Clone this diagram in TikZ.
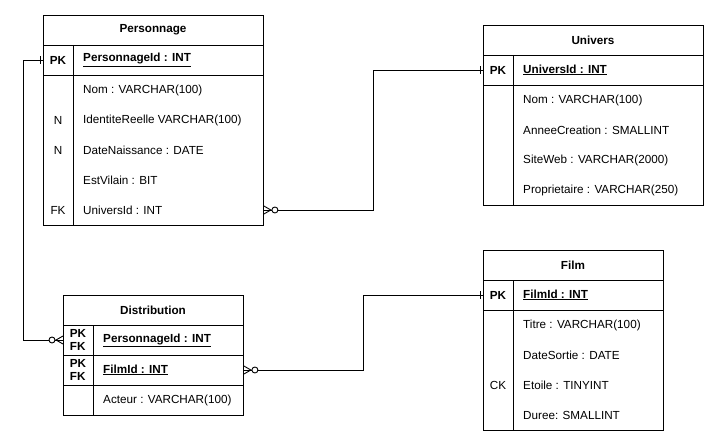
\documentclass[tikz,border=0pt]{standalone}
\usepackage{fontspec}
\setmainfont{Liberation Sans}
\usetikzlibrary{positioning}

\tikzset{
  tbl/.style={draw, line width=0.9pt, inner sep=0pt, anchor=north west},
  sep/.style={line width=0.9pt},
  ttl/.style={font=\fontsize{11.7}{14}\selectfont\bfseries},
  keylbl/.style={font=\fontsize{11.7}{14}\selectfont, align=left},
  pkkey/.style={font=\fontsize{11.7}{13}\selectfont\bfseries, align=left},
  field/.style={font=\fontsize{11.7}{14}\selectfont, anchor=west, inner sep=0pt},
  pkfield/.style={font=\fontsize{11.7}{14}\selectfont\bfseries, anchor=west, inner sep=0pt},
  rel/.style={line width=0.9pt},
  crow/.style={line width=0.9pt},
  ring/.style={line width=0.9pt, fill=white}
}

\begin{document}
\begin{tikzpicture}[x=1pt, y=-1pt]
\useasboundingbox [fill=white] (0,0) rectangle (719,446);

\node [tbl, minimum width=220, minimum height=210] (pers) at (43,15) {};
\draw [sep] (43,45) -- (263,45);
\draw [sep] (43,75) -- (263,75);
\draw [sep] (73,45) -- (73,225);
\node [ttl] (persT) at (153,30) {Personnage};
\node [pkkey] at (58,60) {PK};
\node [pkfield] (persPK) at (83,60) {\underline{PersonnageId : INT}};
\node [field] (persNom) at (83,90) {Nom : VARCHAR(100)};
\node [keylbl] at (58,120) {N};
\node [field] (persIdent) at (83,120) {IdentiteReelle VARCHAR(100)};
\node [keylbl] at (58,150) {N};
\node [field] (persDate) at (83,150) {DateNaissance : DATE};
\node [field] (persVilain) at (83,180) {EstVilain : BIT};
\node [keylbl] at (58,210) {FK};
\node [field] (persUniv) at (83,210) {UniversId : INT};

\node [tbl, minimum width=220, minimum height=180] (univ) at (483,25) {};
\draw [sep] (483,55) -- (703,55);
\draw [sep] (483,85) -- (703,85);
\draw [sep] (513,55) -- (513,205);
\node [ttl] (univT) at (593,40) {Univers};
\node [pkkey] at (498,70) {PK};
\node [pkfield] (univPK) at (523,70) {\underline{UniversId : INT}};
\node [field] (univNom) at (523,100) {Nom : VARCHAR(100)};
\node [field] (univAnnee) at (523,130) {AnneeCreation : SMALLINT};
\node [field] (univSite) at (523,160) {SiteWeb : VARCHAR(2000)};
\node [field] (univProp) at (523,190) {Proprietaire : VARCHAR(250)};

\node [tbl, minimum width=180, minimum height=180] (film) at (483,250) {};
\draw [sep] (483,280) -- (663,280);
\draw [sep] (483,310) -- (663,310);
\draw [sep] (513,280) -- (513,430);
\node [ttl] (filmT) at (573,265) {Film};
\node [pkkey] at (498,295) {PK};
\node [pkfield] (filmPK) at (523,295) {\underline{FilmId : INT}};
\node [field] (filmTitre) at (523,325) {Titre : VARCHAR(100)};
\node [field] (filmSortie) at (523,355) {DateSortie : DATE};
\node [keylbl] at (498,385) {CK};
\node [field] (filmEtoile) at (523,385) {Etoile : TINYINT};
\node [field] (filmDuree) at (523,415) {Duree: SMALLINT};

\node [tbl, minimum width=180, minimum height=120] (dist) at (63,295) {};
\draw [sep] (63,325) -- (243,325);
\draw [sep] (63,355) -- (243,355);
\draw [sep] (63,385) -- (243,385);
\draw [sep] (93,325) -- (93,415);
\node [ttl] (distT) at (153,310) {Distribution};
\node [pkkey] at (78,340) {PK\\FK};
\node [pkfield] (distPers) at (103,340) {\underline{PersonnageId : INT}};
\node [pkkey] at (78,370) {PK\\FK};
\node [pkfield] (distFilm) at (103,370) {\underline{FilmId : INT}};
\node [field] (distActeur) at (103,400) {Acteur : VARCHAR(100)};

\draw [rel] (pers.west |- persPK) -- ++(-20,0) |- (dist.west |- distPers);
\draw [rel] (pers.east |- persUniv) -- ++(110,0) |- (univ.west |- univPK);
\draw [rel] (dist.east |- distFilm) -- ++(120,0) |- (film.west |- filmPK);

\draw [crow] (pers.west |- persPK) ++(-3,-4) -- ++(0,8);
\draw [crow] (univ.west |- univPK) ++(-3,-4) -- ++(0,8);
\draw [crow] (film.west |- filmPK) ++(-3,-4) -- ++(0,8);

\draw [crow] (dist.west |- distPers) ++(0,-4) -- ++(-7,4) -- ++(7,4);
\draw [ring] (dist.west |- distPers) ++(-11,0) circle [radius=3];
\draw [crow] (pers.east |- persUniv) ++(0,-4) -- ++(7,4) -- ++(-7,4);
\draw [ring] (pers.east |- persUniv) ++(11,0) circle [radius=3];
\draw [crow] (dist.east |- distFilm) ++(0,-4) -- ++(7,4) -- ++(-7,4);
\draw [ring] (dist.east |- distFilm) ++(11,0) circle [radius=3];
\end{tikzpicture}
\end{document}
